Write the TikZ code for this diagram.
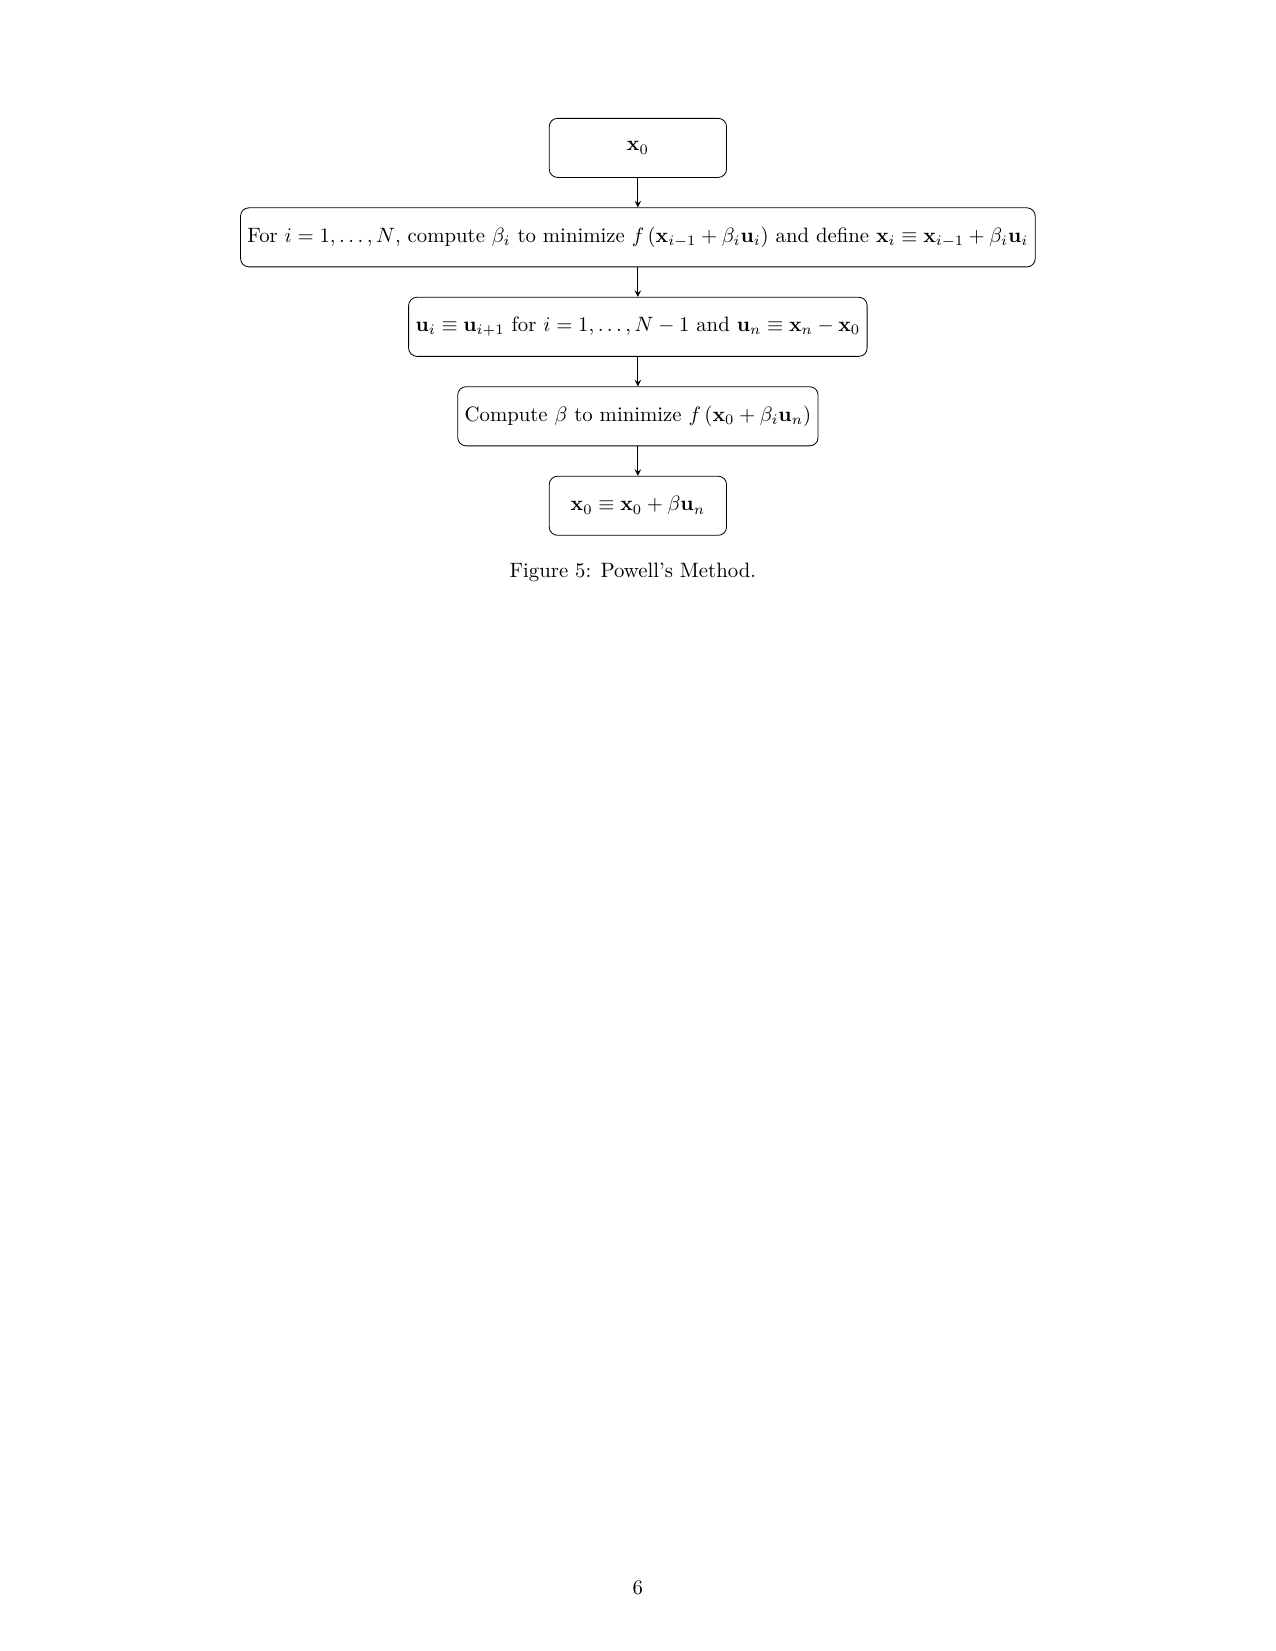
\documentclass[tikz,border=0pt]{standalone}
\usepackage{amsmath}
\usetikzlibrary{positioning}
\begin{document}
\begin{tikzpicture}[node distance=0.5cm,>=stealth,
                      proc node/.style={rectangle,rounded corners,draw,
                      minimum width=3cm,minimum height=1cm}
                     ]
   \useasboundingbox (0,0) rectangle (21.59,27.94);
   \node[proc node] (start) at (10.795,25.437) {$\mathbf{x}_0$};
   \node[proc node, below=of start] (lines) {For $i=1,\dots,N$, compute $\beta_i$ to minimize $f\left(\mathbf{x}_{i-1}+\beta_i\mathbf{u}_i\right)$ and define $\mathbf{x}_i\equiv\mathbf{x}_{i-1}+\beta_i\mathbf{u}_i$};
   \node[proc node, below=of lines] (shift) {$\mathbf{u}_i\equiv\mathbf{u}_{i+1}$ for $i=1,\dots,N-1$ and $\mathbf{u}_n\equiv\mathbf{x}_n-\mathbf{x}_0$};
   \node[proc node, below=of shift] (beta) {Compute $\beta$ to minimize $f\left(\mathbf{x}_0+\beta_i\mathbf{u}_n\right)$};
   \node[proc node, below=of beta] (update) {$\mathbf{x}_0\equiv\mathbf{x}_0+\beta\mathbf{u}_n$};
   \path[->]%
     (start) edge (lines)
     (lines) edge (shift)
     (shift) edge (beta)
     (beta) edge (update);
   \node[anchor=base] (caption) at (10.71,18.175) {Figure 5: Powell's Method.};
   \node[anchor=base] (page) at (10.795,0.96) {6};
\end{tikzpicture}
\end{document}
